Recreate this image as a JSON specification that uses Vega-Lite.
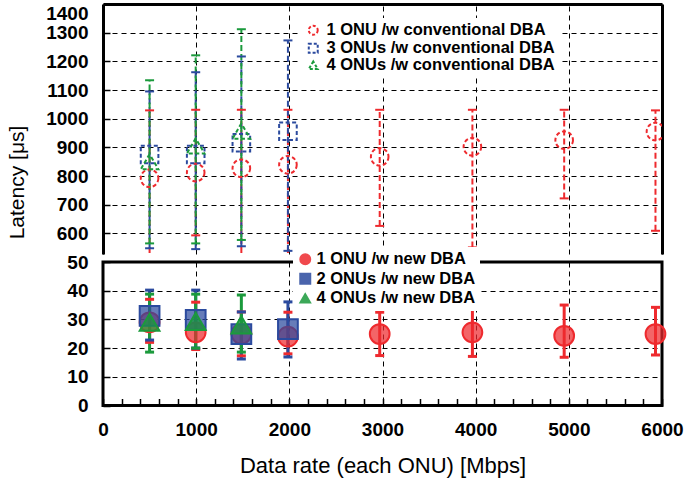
{
  "$schema": "https://vega.github.io/schema/vega-lite/v6.json",
  "background": "white",
  "padding": {"left": 6, "top": 3, "right": 0, "bottom": 0},
  "config": {
    "font": "Liberation Sans",
    "view": {"stroke": null},
    "axis": {"labelColor": "black", "titleColor": "black", "labelFont": "Liberation Sans", "titleFont": "Liberation Sans"}
  },
  "datasets": {
    "conv": [
      {"series": "1 ONU /w conventional DBA", "rate": 500, "lat": 792, "lo": 500, "hi": 1029},
      {"series": "1 ONU /w conventional DBA", "rate": 995, "lat": 812, "lo": 593, "hi": 1031},
      {"series": "1 ONU /w conventional DBA", "rate": 1485, "lat": 827, "lo": 500, "hi": 1031},
      {"series": "1 ONU /w conventional DBA", "rate": 1985, "lat": 839, "lo": 500, "hi": 1031},
      {"series": "1 ONU /w conventional DBA", "rate": 2970, "lat": 867, "lo": 626, "hi": 1031},
      {"series": "1 ONU /w conventional DBA", "rate": 3965, "lat": 902, "lo": 551, "hi": 1031},
      {"series": "1 ONU /w conventional DBA", "rate": 4950, "lat": 925, "lo": 722, "hi": 1031},
      {"series": "1 ONU /w conventional DBA", "rate": 5930, "lat": 955, "lo": 609, "hi": 1029},
      {"series": "3 ONUs /w conventional DBA", "rate": 500, "lat": 875, "lo": 548, "hi": 1095},
      {"series": "3 ONUs /w conventional DBA", "rate": 995, "lat": 875, "lo": 545, "hi": 1162},
      {"series": "3 ONUs /w conventional DBA", "rate": 1485, "lat": 916, "lo": 555, "hi": 1217},
      {"series": "3 ONUs /w conventional DBA", "rate": 1985, "lat": 956, "lo": 539, "hi": 1273},
      {"series": "4 ONUs /w conventional DBA", "rate": 500, "lat": 850, "lo": 565, "hi": 1134},
      {"series": "4 ONUs /w conventional DBA", "rate": 995, "lat": 905, "lo": 565, "hi": 1221},
      {"series": "4 ONUs /w conventional DBA", "rate": 1485, "lat": 957, "lo": 577, "hi": 1312}
    ],
    "new": [
      {"series": "1 ONU /w new DBA", "rate": 500, "lat": 29, "lo": 22, "hi": 37},
      {"series": "1 ONU /w new DBA", "rate": 995, "lat": 25.5, "lo": 19.5, "hi": 36},
      {"series": "1 ONU /w new DBA", "rate": 1485, "lat": 25, "lo": 17.3, "hi": 32.6},
      {"series": "1 ONU /w new DBA", "rate": 1985, "lat": 24, "lo": 18, "hi": 32.5},
      {"series": "1 ONU /w new DBA", "rate": 2970, "lat": 24.9, "lo": 17.4, "hi": 32.5},
      {"series": "1 ONU /w new DBA", "rate": 3965, "lat": 25.5, "lo": 17.1, "hi": 34.0},
      {"series": "1 ONU /w new DBA", "rate": 4950, "lat": 24.3, "lo": 16.8, "hi": 35.0},
      {"series": "1 ONU /w new DBA", "rate": 5930, "lat": 24.9, "lo": 17.6, "hi": 34.2},
      {"series": "2 ONUs /w new DBA", "rate": 500, "lat": 31.2, "lo": 22.8, "hi": 40.2},
      {"series": "2 ONUs /w new DBA", "rate": 995, "lat": 29.8, "lo": 20, "hi": 40.2},
      {"series": "2 ONUs /w new DBA", "rate": 1485, "lat": 24.9, "lo": 16.2, "hi": 32.6},
      {"series": "2 ONUs /w new DBA", "rate": 1985, "lat": 26.6, "lo": 16.9, "hi": 36.1},
      {"series": "4 ONUs /w new DBA", "rate": 500, "lat": 29, "lo": 18.6, "hi": 38.8},
      {"series": "4 ONUs /w new DBA", "rate": 995, "lat": 29.3, "lo": 20, "hi": 38.8},
      {"series": "4 ONUs /w new DBA", "rate": 1485, "lat": 28.1, "lo": 18.6, "hi": 38.5}
    ]
  },
  "bounds": "flush",
  "spacing": 8,
  "resolve": {
    "scale": {"color": "independent", "shape": "independent", "stroke": "independent", "fill": "independent", "y": "independent"},
    "legend": {"color": "independent", "shape": "independent", "stroke": "independent", "fill": "independent"}
  },
  "vconcat": [
    {
      "width": 559,
      "height": 250,
      "data": {"name": "conv"},
      "resolve": {"axis": {"y": "independent"}},
      "layer": [
        {
          "mark": {"type": "rule", "strokeDash": [6, 3], "strokeWidth": 2, "clip": true},
          "encoding": {
            "x": {"field": "rate", "type": "quantitative", "scale": {"domain": [0, 6000], "nice": false},
              "axis": {"orient": "top", "title": null, "values": [0, 1000, 2000, 3000, 4000, 5000, 6000], "tickCount": 100, "labels": false, "ticks": false,
                "grid": true, "gridDash": [5, 4], "gridColor": "black", "gridWidth": 1, "gridOpacity": 1,
                "domain": true, "domainWidth": 3, "domainColor": "black"}},
            "y": {"field": "lo", "type": "quantitative", "scale": {"domain": [528, 1400], "nice": false, "zero": false},
              "axis": {"title": "Latency [μs]", "titleFontSize": 21, "titleFontWeight": "normal", "titleX": -76, "titleY": 178,
                "titleAlign": "center", "titleBaseline": "bottom", "format": "d", "labelFlush": true, "tickCount": 100,
                "values": [600, 700, 800, 900, 1000, 1100, 1200, 1300, 1400],
                "tickSize": -7, "tickColor": "black", "tickWidth": 1.5,
                "labelPadding": 22, "labelFontSize": 19, "labelFontWeight": "bold", "labelOverlap": false,
                "grid": true, "gridDash": [5, 4], "gridColor": "black", "gridWidth": 1, "gridOpacity": 1,
                "domain": true, "domainWidth": 3, "domainColor": "black"}},
            "y2": {"field": "hi"},
            "color": {"field": "series", "type": "nominal", "legend": null,
              "scale": {"domain": ["4 ONUs /w conventional DBA", "3 ONUs /w conventional DBA", "1 ONU /w conventional DBA"], "range": ["#1b9a3c", "#2b4a9e", "#ee2a2e"]}}
          }
        },
        {
          "mark": {"type": "tick", "orient": "horizontal", "size": 9, "thickness": 2, "clip": true, "opacity": 1},
          "encoding": {
            "x": {"field": "rate", "type": "quantitative"},
            "y": {"field": "lo", "type": "quantitative", "axis": null},
            "color": {"field": "series", "type": "nominal", "legend": null}
          }
        },
        {
          "mark": {"type": "tick", "orient": "horizontal", "size": 9, "thickness": 2, "clip": true, "opacity": 1},
          "encoding": {
            "x": {"field": "rate", "type": "quantitative"},
            "y": {"field": "hi", "type": "quantitative", "axis": null},
            "color": {"field": "series", "type": "nominal", "legend": null}
          }
        },
        {
          "mark": {"type": "point", "filled": false, "strokeDash": [4, 2.5], "strokeWidth": 2, "size": 310, "opacity": 1, "clip": true},
          "encoding": {
            "x": {"field": "rate", "type": "quantitative"},
            "y": {"field": "lat", "type": "quantitative",
              "axis": {"orient": "right", "title": null, "labels": false, "ticks": false, "grid": false, "domain": true, "domainWidth": 3, "domainColor": "black"}},
            "stroke": {"field": "series", "type": "nominal",
              "scale": {"domain": ["1 ONU /w conventional DBA", "3 ONUs /w conventional DBA", "4 ONUs /w conventional DBA"], "range": ["#ee2a2e", "#2b4a9e", "#1b9a3c"]},
              "legend": {"orient": "none", "legendX": 198, "legendY": 14, "title": null, "labelFontSize": 16.5, "labelFontWeight": "bold", "labelColor": "black", "labelFont": "Liberation Sans",
                "symbolSize": 80, "symbolStrokeWidth": 2, "symbolDash": [3, 2], "fillColor": "white", "padding": 4, "rowPadding": 0, "labelOffset": 5, "labelLimit": 400}},
            "shape": {"field": "series", "type": "nominal",
              "scale": {"domain": ["1 ONU /w conventional DBA", "3 ONUs /w conventional DBA", "4 ONUs /w conventional DBA"], "range": ["circle", "square", "triangle-up"]},
              "legend": {"orient": "none", "legendX": 198, "legendY": 14, "title": null, "labelFontSize": 16.5, "labelFontWeight": "bold", "labelColor": "black", "labelFont": "Liberation Sans",
                "symbolSize": 80, "symbolStrokeWidth": 2, "symbolDash": [3, 2], "fillColor": "white", "padding": 4, "rowPadding": 0, "labelOffset": 5, "labelLimit": 400}}
          }
        }
      ]
    },
    {
      "width": 559,
      "height": 143.5,
      "data": {"name": "new"},
      "view": {"stroke": "black", "strokeWidth": 3},
      "layer": [
        {
          "mark": {"type": "rule", "strokeWidth": 3},
          "encoding": {
            "x": {"field": "rate", "type": "quantitative", "scale": {"domain": [0, 6000], "nice": false},
              "axis": {"title": "Data rate (each ONU) [Mbps]", "titleFontSize": 22, "titleFontWeight": "normal", "titlePadding": 16, "tickCount": 100,
                "values": [0, 200, 400, 600, 800, 1000, 1200, 1400, 1600, 1800, 2000, 2200, 2400, 2600, 2800, 3000, 3200, 3400, 3600, 3800, 4000, 4200, 4400, 4600, 4800, 5000, 5200, 5400, 5600, 5800, 6000],
                "labelExpr": "datum.value % 1000 === 0 ? format(datum.value, 'd') : ''",
                "labelFontSize": 19, "labelFontWeight": "bold", "labelPadding": 22, "labelFlush": false, "labelOverlap": false,
                "tickSize": -7, "tickColor": "black", "tickWidth": 1.5,
                "grid": true, "gridDash": [5, 4], "gridColor": "black", "gridWidth": 1,
                "gridOpacity": {"condition": {"test": "datum.value % 1000 === 0", "value": 1}, "value": 0},
                "domain": false}},
            "y": {"field": "lo", "type": "quantitative", "scale": {"domain": [0, 50], "nice": false},
              "axis": {"title": null, "values": [0, 10, 20, 30, 40, 50], "format": "d", "tickCount": 100,
                "tickSize": -7, "tickColor": "black", "tickWidth": 1.5,
                "labelPadding": 22, "labelFontSize": 19, "labelFontWeight": "bold", "labelOverlap": false,
                "grid": true, "gridDash": [5, 4], "gridColor": "black", "gridWidth": 1, "gridOpacity": 1,
                "domain": false}},
            "y2": {"field": "hi"},
            "color": {"field": "series", "type": "nominal", "legend": null,
              "scale": {"domain": ["4 ONUs /w new DBA", "2 ONUs /w new DBA", "1 ONU /w new DBA"], "range": ["#1b9a3c", "#2b4a9e", "#ee2a2e"]}}
          }
        },
        {
          "mark": {"type": "tick", "orient": "horizontal", "size": 9, "thickness": 3, "opacity": 1},
          "encoding": {
            "x": {"field": "rate", "type": "quantitative"},
            "y": {"field": "lo", "type": "quantitative"},
            "color": {"field": "series", "type": "nominal", "legend": null}
          }
        },
        {
          "mark": {"type": "tick", "orient": "horizontal", "size": 9, "thickness": 3, "opacity": 1},
          "encoding": {
            "x": {"field": "rate", "type": "quantitative"},
            "y": {"field": "hi", "type": "quantitative"},
            "color": {"field": "series", "type": "nominal", "legend": null}
          }
        },
        {
          "mark": {"type": "point", "filled": true, "strokeWidth": 2, "size": 390, "fillOpacity": 0.72, "strokeOpacity": 1, "opacity": 1},
          "encoding": {
            "x": {"field": "rate", "type": "quantitative"},
            "y": {"field": "lat", "type": "quantitative"},
            "fill": {"field": "series", "type": "nominal",
              "scale": {"domain": ["1 ONU /w new DBA", "2 ONUs /w new DBA", "4 ONUs /w new DBA"], "range": ["#ee2a2e", "#2b4a9e", "#1b9a3c"]},
              "legend": {"orient": "none", "legendX": 190, "legendY": -15, "title": null, "labelFontSize": 16.5, "labelFontWeight": "bold", "labelColor": "black", "labelFont": "Liberation Sans",
                "symbolSize": 110, "symbolStrokeWidth": 1.5, "fillColor": "white", "padding": 4, "rowPadding": 2.5, "labelOffset": 3, "labelLimit": 400, "symbolOpacity": 0.85}},
            "stroke": {"field": "series", "type": "nominal",
              "scale": {"domain": ["1 ONU /w new DBA", "2 ONUs /w new DBA", "4 ONUs /w new DBA"], "range": ["#ee2a2e", "#2b4a9e", "#1b9a3c"]},
              "legend": {"orient": "none", "legendX": 190, "legendY": -15, "title": null, "labelFontSize": 16.5, "labelFontWeight": "bold", "labelColor": "black", "labelFont": "Liberation Sans",
                "symbolSize": 110, "symbolStrokeWidth": 1.5, "fillColor": "white", "padding": 4, "rowPadding": 2.5, "labelOffset": 3, "labelLimit": 400, "symbolOpacity": 0.85}},
            "shape": {"field": "series", "type": "nominal",
              "scale": {"domain": ["1 ONU /w new DBA", "2 ONUs /w new DBA", "4 ONUs /w new DBA"], "range": ["circle", "square", "triangle-up"]},
              "legend": {"orient": "none", "legendX": 190, "legendY": -15, "title": null, "labelFontSize": 16.5, "labelFontWeight": "bold", "labelColor": "black", "labelFont": "Liberation Sans",
                "symbolSize": 110, "symbolStrokeWidth": 1.5, "fillColor": "white", "padding": 4, "rowPadding": 2.5, "labelOffset": 3, "labelLimit": 400, "symbolOpacity": 0.85}}
          }
        }
      ]
    }
  ]
}
